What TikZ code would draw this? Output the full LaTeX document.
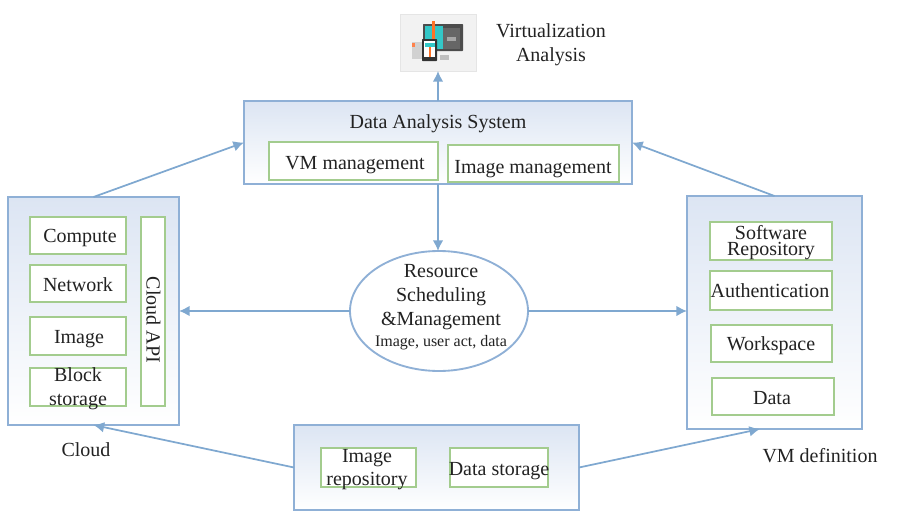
\documentclass[tikz,border=0pt]{standalone}
\usepackage{fontspec}
\setmainfont{Liberation Serif}
\usetikzlibrary{arrows.meta,shapes.geometric}
\definecolor{bluel}{HTML}{8FB0D6}
\definecolor{arrowc}{HTML}{7FA8D0}
\definecolor{greenl}{HTML}{A3CC8E}
\definecolor{panel}{HTML}{DCE5F3}
\definecolor{txt}{HTML}{222222}
\tikzset{
  x=0.75pt,y=-0.75pt,
  every node/.style={text=txt,font=\fontsize{15}{18}\selectfont,inner sep=0pt,outer sep=0pt},
  panelbox/.style={draw=bluel,line width=1.4pt,top color=panel,bottom color=white,anchor=north west},
  itembox/.style={draw=greenl,line width=1.3pt,fill=white,anchor=north west,align=center},
  flow/.style={draw=arrowc,line width=1.3pt,-{Latex[length=8pt,width=8pt]}},
  caption/.style={align=center}
}
\newcommand{\boxat}[7][itembox]{% style, name, x1,y1,x2,y2, text
  \pgfmathsetmacro{\bw}{(#5-#3)*0.75}\pgfmathsetmacro{\bh}{(#6-#4)*0.75}
  \node[#1,minimum width=\bw pt,minimum height=\bh pt] (#2) at (#3,#4) {#7};}
\begin{document}
\begin{tikzpicture}
\useasboundingbox (0,0) rectangle (904,518);
% panels
\boxat[panelbox]{das}{244}{101}{632}{184}{}
\boxat[panelbox]{cloud}{8}{197}{179}{425}{}
\boxat[panelbox]{vmdef}{687}{196}{862}{429}{}
\boxat[panelbox]{store}{294}{425}{579}{510}{}
\node (dastitle) at (438,123.5) {Data Analysis System};
% items
\boxat{vmm}{269}{142}{438}{180}{}
\node (vmmtext) at (355,165) {VM management};
\boxat{imm}{448}{145}{619}{182}{}
\node (immtext) at (533,169) {Image management};
\boxat{comp}{30}{217}{126}{254}{}
\node (comptext) at (80,238) {Compute};
\boxat{net}{30}{265}{126}{302}{}
\node (nettext) at (78,285) {Network};
\boxat{img}{30}{317}{126}{355}{}
\node (imgtext) at (79,339.5) {Image};
\boxat{blk}{30}{368}{126}{406}{}
\node[align=center,font=\fontsize{15}{18}\selectfont] (blktext) at (78,389) {Block\\storage};
\boxat{api}{141}{217}{165}{406}{}
\node[rotate=-90] (apitext) at (153.5,320) {Cloud API};
\boxat{soft}{710}{222}{832}{260}{}
\node[align=center,font=\fontsize{15}{12}\selectfont] (softtext) at (771,243) {Software\\Repository};
\boxat{auth}{710}{271}{832}{310}{}
\node (authtext) at (770,291) {Authentication};
\boxat{work}{711}{325}{832}{362}{}
\node (worktext) at (771,346) {Workspace};
\boxat{data}{712}{378}{834}{415}{}
\node (datatext) at (772,398) {Data};
\boxat{repo}{321}{448}{416}{487}{}
\node[align=center,font=\fontsize{15}{17.25}\selectfont] (repotext) at (367,469.5) {Image\\repository};
\boxat{dstore}{450}{448}{548}{487}{}
\node (dstoretext) at (499,471) {Data storage};
% ellipse
\node[ellipse,draw=bluel,line width=1.4pt,fill=white,minimum width=133.5pt,minimum height=90pt] (res) at (439,311) {};
\node[align=center,font=\fontsize{15}{18}\selectfont] (restext) at (441,297) {Resource\\Scheduling\\\&Management};
\node[font=\fontsize{12}{13}\selectfont] (ressub) at (441,342.5) {Image, user act, data};
% icon
\node[draw=black!10,line width=0.6pt,fill=black!5,anchor=north west,minimum width=57pt,minimum height=42.75pt] (icon) at (400,14) {};
\fill[black!18] (412,42) rectangle (423,59);
\fill[orange!60!red!70] (412,43) rectangle (415,47);
\fill[black!25] (440,55) rectangle (449,60);
\fill[black!70,rounded corners=0.5pt] (423,24) rectangle (463,51);
\fill[teal!55!cyan!80] (425,26) rectangle (443,49);
\fill[black!60] (443,28) rectangle (460,49);
\fill[black!35] (447,37) rectangle (456,41);
\fill[orange!70!red!85] (432,21) rectangle (435,58);
\fill[black!80,rounded corners=0.5pt] (422,39) rectangle (437,61);
\fill[white] (424,41) rectangle (435,57);
\fill[teal!55!cyan!80] (425,43) rectangle (435,47);
\fill[orange!70!red!85] (429,47) rectangle (431,57);
% captions
\node[caption,font=\fontsize{15}{18}\selectfont] (virt) at (551,45) {Virtualization\\Analysis};
\node (cloudlbl) at (86,450) {Cloud};
\node (vmlbl) at (820,455.5) {VM definition};
% connectors
\coordinate (vmdefend) at (760,429);
\draw[flow] (das.north) -- (das.north |- icon.south);
\draw[flow] (das.south) -- (das.south |- res.north);
\draw[flow] (cloud.north) -- (das.west);
\draw[flow] (vmdef.north) -- (das.east);
\draw[flow] (res.west) -- (res.west -| cloud.east);
\draw[flow] (res.east) -- (res.east -| vmdef.west);
\draw[flow] (store.west) -- (cloud.south);
\draw[flow] (store.east) -- (vmdefend);
\end{tikzpicture}
\end{document}
